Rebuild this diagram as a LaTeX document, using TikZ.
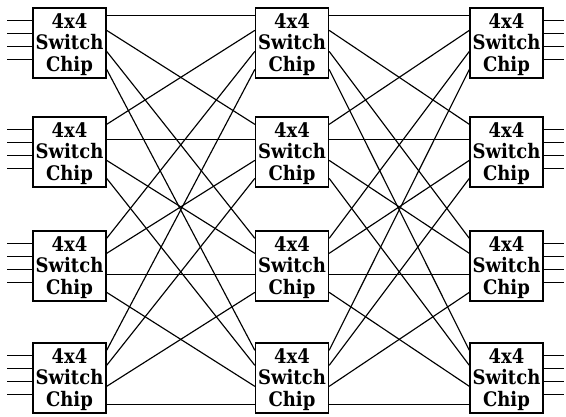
\documentclass[tikz,border=0pt]{standalone}
\usepackage{fontspec}
\newfontfamily\chipfont{DejaVu Serif Condensed}
\usetikzlibrary{calc}
\begin{document}
\begin{tikzpicture}[x=1pt,y=-1pt,
  chip/.style={draw, line width=1.3pt, minimum width=73pt, minimum height=70pt, inner sep=0pt},
  chiptext/.style={align=center, font=\chipfont\bfseries\fontsize{20}{21.5}\selectfont, inner sep=0pt},
  wire/.style={line width=1.15pt}]
\useasboundingbox (0,0) rectangle (566,416);
\foreach \c/\x in {L/69.5, M/292, R/506.5}{
  \foreach \r/\y in {1/43, 2/152, 3/266, 4/378}{
    \node[chip] (\c\r) at (\x,\y) {};
    \node[chiptext] (\c\r t) at ([yshift=-1.5pt]\c\r.center) {4x4\\Switch\\Chip};
  }
}
% stage connections
\foreach \i/\oi in {1/8,2/23,3/44,4/62}{
  \foreach \j/\oj in {1/8,2/23,3/44,4/62}{
    \draw[wire] ($(L\i.north east)+(0,\oj)$) -- ($(M\j.north west)+(0,\oi)$);
    \draw[wire] ($(M\i.north east)+(0,\oj)$) -- ($(R\j.north west)+(0,\oi)$);
  }
}
% external lines
\foreach \r in {1,2,3,4}{
  \foreach \o in {13,26,39,52}{
    \coordinate (in\r-\o) at ($(L\r.north west)+(-25,\o)$);
    \draw[wire] (in\r-\o) -- ($(L\r.north west)+(0,\o)$);
    \coordinate (out\r-\o) at ($(R\r.north east)+(20,\o)$);
    \draw[wire] ($(R\r.north east)+(0,\o)$) -- (out\r-\o);
  }
}
\end{tikzpicture}
\end{document}
